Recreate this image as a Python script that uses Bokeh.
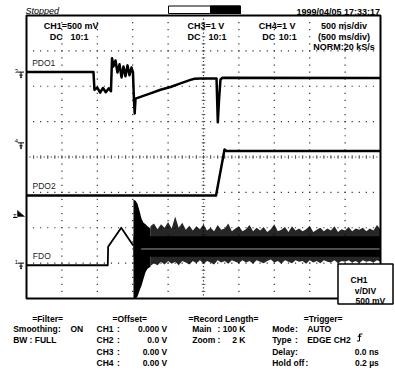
import numpy as np
from bokeh.plotting import figure
from bokeh.models import Range1d
from bokeh.core.properties import value
from bokeh.embed import file_html
from bokeh.resources import INLINE

# ---------------- scope settings ----------------
TIME_PER_DIV = 0.5            # s/div (500 ms/div)
N_XDIV, N_YDIV = 10, 8
PDO1_SCALE, PDO1_GND = 1.0, 2.4   # CH3, V/div, ground (div from centre)
PDO2_SCALE, PDO2_GND = 1.0, 0.4   # CH4
FDO_SCALE, FDO_GND = 0.5, -3.0    # CH1
TRIG_LEVEL_DIV = -1.68

# ---------------- traces (time in s, volts) ----------------
PDO1_T = [0.000, 0.946, 0.960, 1.000, 1.040, 1.080, 1.120, 1.160, 1.193,
          1.208, 1.229, 1.257, 1.285, 1.314, 1.342, 1.370, 1.398, 1.427, 1.455, 1.483, 1.504,
          1.518, 1.528, 1.540, 1.610, 1.751, 1.893, 2.034, 2.175, 2.316, 2.373,
          2.458, 2.684, 2.702, 2.719, 2.740, 2.768, 5.000]
PDO1_V = [0.00, 0.00, -0.50, -0.44, -0.58, -0.45, -0.57, -0.46, -0.54,
          0.39, 0.16, 0.33, -0.01, 0.22, -0.15, 0.16, -0.12, 0.19, -0.09, 0.13, -0.01,
          -0.80, -1.17, -0.75, -0.70, -0.60, -0.50, -0.42, -0.32, -0.22, -0.19,
          -0.18, -0.18, -1.42, -0.80, -0.21, -0.16, -0.17]

PDO2_T = [0.000, 2.677, 2.797, 2.825, 5.000]
PDO2_V = [-1.49, -1.49, -0.19, -0.23, -0.23]

FDO_T = [0.000, 1.148, 1.153, 1.338, 1.507]
FDO_V = [-0.03, -0.03, 0.23, 0.50, 0.25]

BURST_T = [1.511, 1.540, 1.568, 1.596, 1.624, 1.653, 1.681, 1.709, 1.751]
BURST_TOP = [0.90, 0.88, 0.84, 0.74, 0.63, 0.57, 0.55, 0.52, 0.49]
BURST_BOT = [-0.50, -0.50, -0.47, -0.39, -0.32, -0.22, -0.13, -0.08, -0.05]

DENSE_T = [1.511, 5.000]
DENSE_TOP = [0.38, 0.38]
DENSE_BOT = [0.09, 0.09]
CORE_T = [1.62, 5.00]
CORE_V = [0.20, 0.20]

NOISE_T = [round(1.75 + 0.05 * i, 2) for i in range(66)]
NOISE_UP = [0.52, 0.56, 0.48, 0.55, 0.50, 0.58, 0.49, 0.66, 0.50, 0.57,
            0.47, 0.53, 0.46, 0.52, 0.48, 0.55, 0.46, 0.50, 0.45, 0.54,
            0.47, 0.49, 0.56, 0.45, 0.49, 0.52, 0.45, 0.48, 0.54, 0.45,
            0.50, 0.46, 0.51, 0.44, 0.48, 0.55, 0.45, 0.47, 0.51, 0.44,
            0.52, 0.46, 0.49, 0.45, 0.48, 0.53, 0.44, 0.47, 0.50, 0.45,
            0.49, 0.46, 0.52, 0.44, 0.48, 0.46, 0.51, 0.45, 0.49, 0.47,
            0.50, 0.45, 0.49, 0.46, 0.54, 0.48]
NOISE_LO = [-0.04, 0.00, -0.03, 0.02, -0.02, 0.03, -0.01, 0.02, -0.03, 0.03,
            0.01, -0.02, 0.03, 0.00, 0.04, -0.01, 0.03, 0.01, -0.02, 0.04,
            0.01, 0.03, -0.01, 0.04, 0.02, 0.00, 0.04, 0.01, 0.03, -0.01,
            0.04, 0.02, 0.00, 0.03, 0.05, 0.01, 0.03, -0.01, 0.04, 0.02,
            0.00, 0.04, 0.02, 0.03, -0.01, 0.04, 0.01, 0.03, 0.00, 0.04,
            0.02, 0.01, 0.04, 0.00, 0.03, 0.02, 0.04, 0.01, 0.03, 0.00,
            0.04, 0.02, 0.03, 0.01, 0.04, 0.02]
assert len(NOISE_UP) == len(NOISE_LO) == len(NOISE_T)

# ---------------- layout (reference pixel geometry) ----------------
FIG_W, FIG_H = 395, 372
GRID_L, GRID_T = 26.0, 15.0
DIV_PX_X, DIV_PX_Y = 35.4, 35.375
CENTER_PY = GRID_T + DIV_PX_Y * N_YDIV / 2


def X(px):
    return (px - GRID_L) / DIV_PX_X * TIME_PER_DIV


def Y(py):
    return (CENTER_PY - py) / DIV_PX_Y


def to_div(v, scale, gnd):
    return gnd + np.asarray(v, dtype=float) / scale


p = figure(width=FIG_W, height=FIG_H,
           x_range=Range1d(X(0), X(FIG_W)),
           y_range=Range1d(Y(FIG_H), Y(0)),
           output_backend="svg", toolbar_location=None,
           x_axis_location=None, y_axis_location=None, min_border=0)
p.grid.visible = False
p.outline_line_color = None
p.background_fill_color = "white"
p.border_fill_color = "white"

T_END = N_XDIV * TIME_PER_DIV
HALF = N_YDIV / 2

# ---------------- graticule ----------------
gx, gy = [], []
for k in range(1, N_XDIV):
    if k == N_XDIV // 2:
        continue
    for j in range(N_YDIV * 5 + 1):
        gx.append(k * TIME_PER_DIV)
        gy.append(-HALF + j * 0.2)
for k in range(1, N_YDIV):
    if k == N_YDIV // 2:
        continue
    for j in range(N_XDIV * 5 + 1):
        gx.append(j * 0.2 * TIME_PER_DIV)
        gy.append(-HALF + k)
for j in range(N_YDIV * 10 + 1):
    gx.append(T_END / 2)
    gy.append(-HALF + j * 0.1)
for j in range(N_XDIV * 10 + 1):
    gx.append(j * 0.1 * TIME_PER_DIV)
    gy.append(0.0)
p.rect(x=gx, y=gy, width=1.2, height=1.2, width_units="screen", height_units="screen",
       fill_color="#333333", line_color=None)

tx0, ty0, tx1, ty1 = [], [], [], []
for j in range(N_YDIV * 5 + 1):
    tx0.append(T_END / 2 - 0.025); tx1.append(T_END / 2 + 0.025)
    ty0.append(-HALF + j * 0.2); ty1.append(-HALF + j * 0.2)
for j in range(N_XDIV * 5 + 1):
    tx0.append(j * 0.1); tx1.append(j * 0.1)
    ty0.append(-0.05); ty1.append(0.05)
p.segment(tx0, ty0, tx1, ty1, line_color="#555555", line_width=1)

# ---------------- traces ----------------
p.line(PDO1_T, to_div(PDO1_V, PDO1_SCALE, PDO1_GND), line_color="black", line_width=2.5,
       line_join="round")
p.line(PDO2_T, to_div(PDO2_V, PDO2_SCALE, PDO2_GND), line_color="black", line_width=2.5,
       line_join="round")
p.line(FDO_T, to_div(FDO_V, FDO_SCALE, FDO_GND), line_color="black", line_width=1.8,
       line_join="round")
p.varea(x=NOISE_T, y1=to_div(NOISE_LO, FDO_SCALE, FDO_GND), y2=to_div(NOISE_UP, FDO_SCALE, FDO_GND),
        fill_color="black", fill_alpha=0.85)
p.varea(x=DENSE_T, y1=to_div(DENSE_BOT, FDO_SCALE, FDO_GND), y2=to_div(DENSE_TOP, FDO_SCALE, FDO_GND),
        fill_color="black")
p.varea(x=BURST_T, y1=to_div(BURST_BOT, FDO_SCALE, FDO_GND), y2=to_div(BURST_TOP, FDO_SCALE, FDO_GND),
        fill_color="black")
p.line(CORE_T, to_div(CORE_V, FDO_SCALE, FDO_GND), line_color="#9a9a9a", line_width=1)

# ---------------- frame ----------------
p.quad(left=[0], right=[T_END], bottom=[-HALF], top=[HALF], fill_color=None,
       line_color="black", line_width=2)

FONT = value("Liberation Sans")


def txt(pxs, pys, texts, size=8.5, style="bold", align="left", color="black"):
    p.text(x=[X(a) for a in pxs], y=[Y(b + 0.358 * size) for b in pys], text=texts,
           text_font=FONT, text_font_size=value(f"{size}px"), text_font_style=style,
           text_align=align, text_baseline="alphabetic", text_color=color)


# ---------------- ground / trigger markers ----------------
mx0, my0, mx1, my1 = [], [], [], []
for gnd in (PDO1_GND, PDO2_GND, FDO_GND):
    lv = CENTER_PY - gnd * DIV_PX_Y
    for a, b, c, d in [(17.5, lv, 23.5, lv), (20.5, lv, 20.5, lv + 6),
                       (18.8, lv + 3, 22.2, lv + 3), (19.6, lv + 5.2, 21.4, lv + 5.2)]:
        mx0.append(X(a)); my0.append(Y(b)); mx1.append(X(c)); my1.append(Y(d))
trig_py = CENTER_PY - TRIG_LEVEL_DIV * DIV_PX_Y
mx0.append(X(12.5)); my0.append(Y(trig_py + 1)); mx1.append(X(17)); my1.append(Y(trig_py + 1))
p.segment(mx0, my0, mx1, my1, line_color="black", line_width=1)
p.patch([X(17), X(17), X(24)], [Y(trig_py - 6), Y(trig_py), Y(trig_py)], fill_color="black",
        line_color="black", line_width=0.5)
txt([14.2, 14.2, 14.2], [CENTER_PY - g * DIV_PX_Y - 3.5 for g in (PDO1_GND, PDO2_GND, FDO_GND)],
    ["3", "4", "1"], size=6, style="normal")
txt([12.5], [trig_py - 3], ["T"], size=6, style="normal")

# channel labels
txt([31.7, 32, 32.3], [59.5, 182.5, 252.7], ["PDO1", "PDO2", "FDO"], size=8.5, style="normal",
    color="#222")

# ---------------- top annotations ----------------
txt([43.3, 187, 258.3], [22, 22, 22], ["CH1=500 mV", "CH3=1 V", "CH4=1 V"], size=9)
txt([49.3, 70, 187, 208, 261.7, 278.3], [33.3] * 6, ["DC", "10:1", "DC", "10:1", "DC", "10:1"], size=9)
txt([343.5, 343.5, 343.5], [22.5, 33.3, 43.5], ["500 ms/div", "(500 ms/div)", "NORM:20 kS/s"],
    size=9, align="center")
p.text(x=[X(25)], y=[Y(10.5)], text=["Stopped"], text_font=FONT, text_font_size=value("9px"),
       text_font_style="italic", text_baseline="alphabetic", text_align="left")
p.text(x=[X(379.5)], y=[Y(11.7)], text=["1999/04/05 17:33:17"], text_font=FONT,
       text_font_size=value("9px"), text_font_style="bold", text_baseline="alphabetic",
       text_align="right")
p.quad(left=[X(168)], right=[X(240)], bottom=[Y(13)], top=[Y(5.5)], fill_color="white",
       line_color="black", line_width=1)
p.quad(left=[X(210)], right=[X(240)], bottom=[Y(13)], top=[Y(5.5)], fill_color="black",
       line_color="black", line_width=1)

# ---------------- CH1 box ----------------
p.quad(left=[X(337.5)], right=[X(392.5)], bottom=[Y(303.5)], top=[Y(263.5)], fill_color="white",
       line_color="black", line_width=1.5)
txt([350, 354.3, 355], [276.7, 287, 297.3], ["CH1", "v/DIV", "500 mV"], size=8.5)

# ---------------- bottom settings panel ----------------
R = [315, 325.5, 336.8, 348.2, 359.5]
txt([31.7, 112, 188, 303.3], [R[0]] * 4, ["=Filter=", "=Offset=", "=Record Length=", "=Trigger="])
txt([12.7, 57.5, 70, 12.7, 29], [R[1], R[1], R[1], R[2], R[2]],
    ["Smoothing", ":", "ON", "BW", ": FULL"])
txt([96] * 4, R[1:], ["CH1", "CH2", "CH3", "CH4"])
txt([116.5] * 4, R[1:], [":"] * 4)
txt([166.7] * 4, R[1:], ["0.000 V", "0.0 V", "0.00 V", "0.00 V"], align="right")
txt([191.7, 191.7, 217, 217], [R[1], R[2], R[1], R[2]], ["Main", "Zoom", ":", ":"])
txt([245, 245], [R[1], R[2]], ["100 K", "2 K"], align="right")
txt([271.7] * 4, R[1:], ["Mode", "Type", "Delay", "Hold off"])
txt([294.5, 294.5, 294.5, 305], R[1:], [":", ":", ":", ":"])
txt([306.7, 306.7], [R[1], R[2]], ["AUTO", "EDGE CH2"])
txt([378.3, 378.3], [R[3], R[4]], ["0.0 ns", "0.2 \u00b5s"], align="right")
# rising-edge trigger symbol
p.multi_line(xs=[[X(356.5), X(359), X(359), X(362)], [X(357.4), X(359), X(360.6)]],
             ys=[[Y(340.5), Y(340.5), Y(333.5), Y(333.5)], [Y(336.5), Y(334.5), Y(336.5)]],
             line_color="black", line_width=1)

open("out.html", "w").write(file_html(p, INLINE))
